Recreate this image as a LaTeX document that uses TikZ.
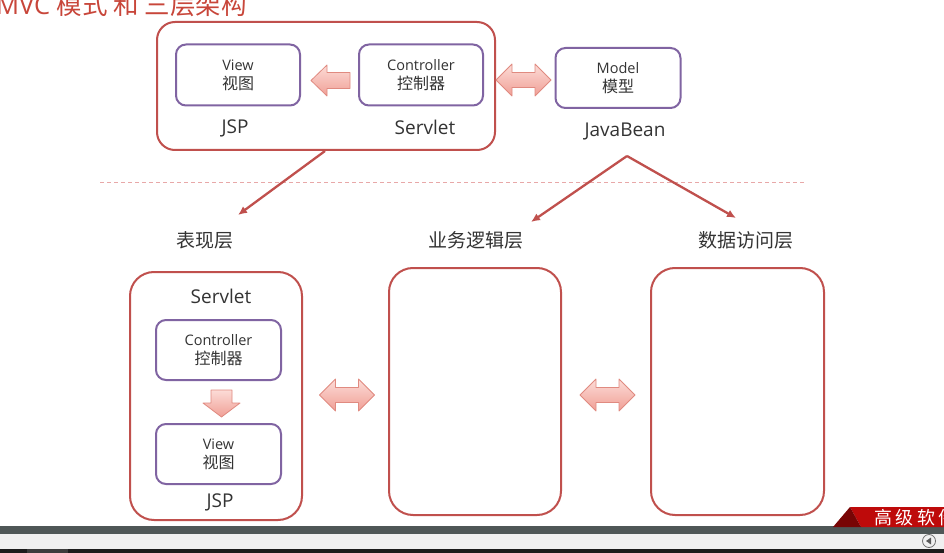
\documentclass[tikz,border=0pt]{standalone}
\usepackage{fontspec}
\setmainfont{Open Sans}
\newfontfamily\cjk{Noto Sans CJK SC}
\usetikzlibrary{arrows.meta,calc}
\definecolor{outerred}{HTML}{C0504D}
\definecolor{purp}{HTML}{8064A2}
\definecolor{txt}{HTML}{333333}
\definecolor{titlered}{HTML}{C8463A}
\definecolor{conn}{HTML}{C0504D}
\definecolor{dashc}{HTML}{E8A8A8}
\definecolor{ablight}{HTML}{FCDCD7}
\definecolor{abdark}{HTML}{F09F96}
\definecolor{abline}{HTML}{E08A80}
\definecolor{bardark}{RGB}{79,87,87}
\definecolor{barlight}{RGB}{240,240,240}
\definecolor{barblack}{RGB}{28,28,28}
\definecolor{barmid}{RGB}{60,60,60}
\definecolor{icongray}{RGB}{110,110,110}
\definecolor{icontri}{RGB}{90,90,90}
\definecolor{bannerred}{RGB}{190,10,10}
\definecolor{bannerdark}{RGB}{120,5,5}
\tikzset{
  outerbox/.style={draw=outerred, line width=2pt, rounded corners=18pt},
  bigbox/.style={draw=outerred, line width=2pt, rounded corners=24pt},
  innerbox/.style={draw=purp, line width=2pt, rounded corners=10pt, fill=white,
     align=center, text=txt, inner sep=0pt, font=\fontsize{14.5}{19}\selectfont},
  lbl/.style={text=txt, font=\fontsize{19}{22}\selectfont, inner sep=0pt},
  layer/.style={text=txt, font=\cjk\fontsize{19}{22}\selectfont, inner sep=0pt},
  conline/.style={draw=conn, line width=2.3pt, -{Latex[length=9pt,width=8pt]}},
  blockarrow/.style={top color=ablight, bottom color=abdark, draw=abline, line width=0.8pt, line join=round},
  dbl/.pic={\path[blockarrow] (-27.5,0) -- (-11.5,-16) -- (-11.5,-7.5) -- (11.5,-7.5) -- (11.5,-16) -- (27.5,0) -- (11.5,16) -- (11.5,7.5) -- (-11.5,7.5) -- (-11.5,16) -- cycle;},
}
\newcommand{\twoline}[2]{#1\\{\cjk\fontsize{16}{19}\selectfont #2}}
\begin{document}
\begin{tikzpicture}[x=1pt,y=-1pt]
\useasboundingbox (0,0) rectangle (944,553);
\fill[white] (0,0) rectangle (944,553);

% title
\node[anchor=base west, inner sep=0pt, text=titlered, font=\fontsize{25.5}{28}\selectfont] (title) at (-4,14.5) {MVC {\cjk 模式 和 三层架构}};

% top MVC group
\draw[outerbox] (157,22) rectangle (495,150);
\coordinate (topgrpS) at (325,151);
\node[innerbox, minimum width=124pt, minimum height=61pt] (view1) at (238,75) {\twoline{View}{视图}};
\node[innerbox, minimum width=124pt, minimum height=61pt] (ctrl1) at (421,75) {\twoline{Controller}{控制器}};
\node[innerbox, minimum width=125pt, minimum height=60pt] (model) at (618,78) {\twoline{Model}{模型}};
\node[lbl] (jsp1) at (235,128) {JSP};
\node[lbl] (servlet1) at (425,127) {Servlet};
\node[lbl] (javabean) at (625,132) {JavaBean};

% block arrow controller -> view (top)
\path[blockarrow] (311,80.5) -- (327,65) -- (327,72.5) -- (350,72.5) -- (350,88.5) -- (327,88.5) -- (327,96) -- cycle;
% double arrow top group <-> model
\pic at (523.5,80) {dbl};

% dashed separator
\draw[dashc, line width=1pt, dash pattern=on 4pt off 3pt] (100,183) -- (805,183);

% layer labels
\node[layer] (pres) at (205,240) {表现层};
\node[layer] (biz) at (476,240) {业务逻辑层};
\node[layer] (dao) at (746,240) {数据访问层};
\coordinate (presT) at (238,215);
\coordinate (bizT) at (531,222);
\coordinate (daoT) at (736,218);
\coordinate (jbS) at (627,156);

\draw[conline] (topgrpS) -- (presT);
\draw[conline] (jbS) -- (bizT);
\draw[conline] (jbS) -- (daoT);

% bottom boxes
\draw[bigbox] (130,272) rectangle (302,520);
\draw[bigbox] (389,268) rectangle (561,515);
\draw[bigbox] (651,268) rectangle (824,515);

\node[lbl] (servlet2) at (221,296) {Servlet};
\node[innerbox, minimum width=125pt, minimum height=60pt] (ctrl2) at (218.5,350) {\twoline{Controller}{控制器}};
\node[innerbox, minimum width=125pt, minimum height=60pt] (view2) at (218.5,454) {\twoline{View}{视图}};
\node[lbl] (jsp2) at (220,502) {JSP};

% down block arrow
\path[blockarrow] (221.5,417) -- (203,403) -- (211,403) -- (211,390) -- (232,390) -- (232,403) -- (240,403) -- cycle;

% double arrows between layers
\pic at (347,395) {dbl};
\pic at (607.5,395) {dbl};

% bottom bars
\fill[bardark] (0,526) rectangle (944,534);
\fill[barlight] (0,534) rectangle (944,549);
\fill[barblack] (0,549) rectangle (944,553);
\fill[barmid] (27,549) rectangle (68,553);
\draw[icongray, line width=0.8pt] (929,541) circle (6.5pt);
\fill[icontri] (926,541) -- (931,537.5) -- (931,544.5) -- cycle;

% banner
\fill[bannerred] (850,507) -- (944,507) -- (944,527) -- (861,527) -- cycle;
\fill[bannerdark] (833,527) -- (850,507) -- (861,527) -- cycle;
\node[anchor=west, inner sep=0pt, text=white, font=\cjk\fontsize{18}{20}\selectfont] (banner) at (874,518) {高\hspace{3.5pt}级\hspace{3.5pt}软\hspace{3.5pt}件};
\end{tikzpicture}
\end{document}
